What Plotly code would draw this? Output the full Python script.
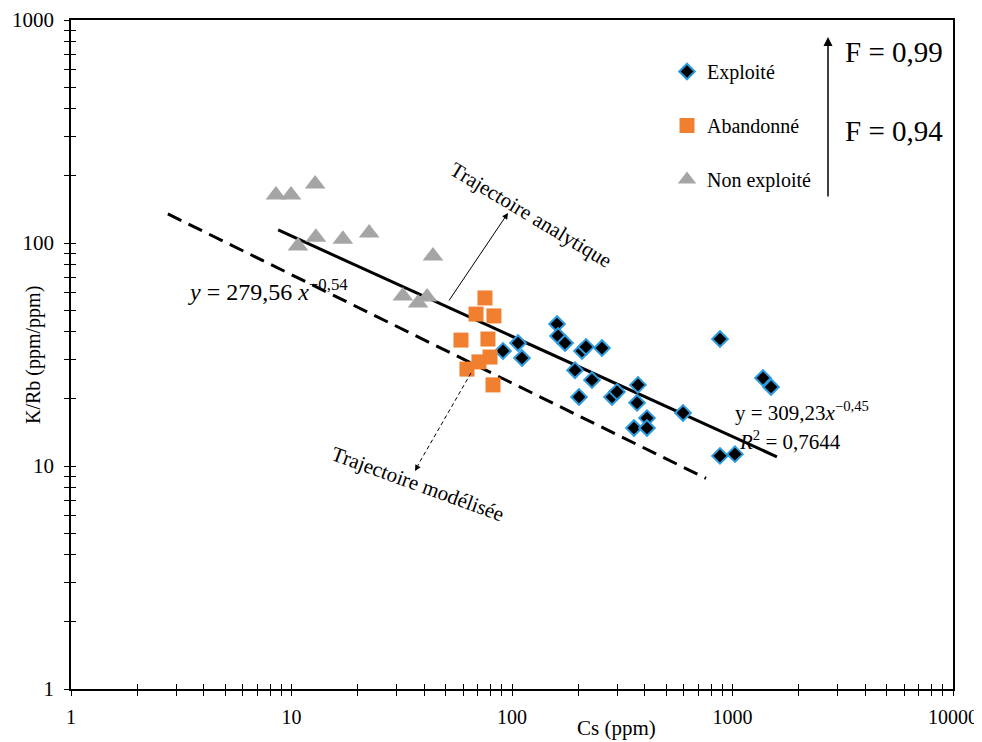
import plotly.graph_objects as go

# ---------------- data ----------------
exploite_cs = [91.0, 106.5, 111.0, 160.0, 161.7, 174.0, 207.6, 216.6, 255.9, 193.1,
               230.5, 201.3, 284.2, 299.4, 372.6, 369.0, 409.4, 357.4, 409.4, 596.6,
               877.6, 1375, 1496, 877.6, 1026]
exploite_krb = [32.8, 35.6, 30.5, 43.3, 38.3, 35.6, 32.8, 34.2, 33.8, 26.9,
                24.3, 20.4, 20.4, 21.5, 23.1, 19.2, 16.4, 14.8, 14.8, 17.3,
                37.1, 24.8, 22.6, 11.1, 11.3]

abandonne_cs = [75.4, 68.7, 82.8, 58.7, 77.8, 79.5, 70.8, 62.5, 82.0]
abandonne_krb = [56.7, 48.0, 47.1, 36.7, 37.1, 30.8, 29.3, 27.2, 23.1]

non_exploite_cs = [8.5, 9.95, 12.8, 10.7, 12.9, 17.1, 22.5, 43.8, 32.0, 37.5, 41.2]
non_exploite_krb = [164, 164, 184, 97, 106, 104, 111, 87.5, 57.9, 53.8, 57.3]

# trend lines (end points)
analytique_cs = [8.7, 1590]
analytique_krb = [114.4, 11.0]
modelisee_cs = [2.75, 758]
modelisee_krb = [135, 8.8]

x_decades = [1, 10, 100, 1000, 10000]
y_decades = [1, 10, 100, 1000]

# ---------------- layout geometry (page pixels) ----------------
W, H = 982, 742
SH = 8  # page body offset
L, R, T, B = 71, 953, 20, 689


def px(xp):
    return (xp - L) / (R - L)


def py(yp):
    return (B - yp) / (B - T)


def log_ticks(decades):
    vals, text = [], []
    for i, d in enumerate(decades):
        if i < len(decades) - 1:
            for m in range(1, 10):
                vals.append(d * m)
                text.append(str(d) if m == 1 else "")
        else:
            vals.append(d)
            text.append(str(d))
    return vals, text


xtv, xtt = log_ticks(x_decades)
ytv, ytt = log_ticks(y_decades)

SERIF = "Liberation Serif"

fig = go.Figure()

fig.add_trace(go.Scatter(
    x=analytique_cs, y=analytique_krb, mode="lines",
    line=dict(color="black", width=3), showlegend=False, hoverinfo="skip"))
fig.add_trace(go.Scatter(
    x=modelisee_cs, y=modelisee_krb, mode="lines",
    line=dict(color="black", width=3, dash="15px,8px"), showlegend=False, hoverinfo="skip"))

fig.add_trace(go.Scatter(
    x=exploite_cs, y=exploite_krb, mode="markers", name="Exploité", legendgroup="a",
    marker=dict(symbol="diamond", size=12, color="black",
                line=dict(color="#2a9be0", width=2))))
fig.add_trace(go.Scatter(
    x=abandonne_cs, y=abandonne_krb, mode="markers", name="Abandonné", legendgroup="b",
    marker=dict(symbol="square", size=15, color="#f07f30", line=dict(width=0))))
fig.add_trace(go.Scatter(
    x=non_exploite_cs, y=non_exploite_krb, mode="markers", name="Non exploité", legendgroup="c",
    marker=dict(symbol="triangle-up", size=18, color="#a5a5a5", line=dict(width=0))))

# dummy trace for the overlay axes (inside half of crossing ticks)
fig.add_trace(go.Scatter(x=[1], y=[1], xaxis="x2", yaxis="y2", mode="markers",
                         marker=dict(opacity=0), showlegend=False, hoverinfo="skip"))

axis_common = dict(showgrid=False, zeroline=False, tickcolor="black", tickwidth=1,
                   automargin=False)

fig.update_layout(
    width=W, height=H,
    margin=dict(l=L - SH, r=W - R + SH, t=T - SH, b=H - B + SH),
    paper_bgcolor="white", plot_bgcolor="white",
    font=dict(family=SERIF, color="black", size=20),
    xaxis=dict(type="log", range=[0, 4], tickvals=xtv, ticktext=xtt,
               ticks="outside", ticklen=5, showline=True, linecolor="black",
               linewidth=1.5, mirror=True, ticklabelstandoff=4,
               tickfont=dict(size=20, family=SERIF), **axis_common),
    yaxis=dict(type="log", range=[0, 3], tickvals=ytv, ticktext=ytt,
               ticks="outside", ticklen=5, showline=True, linecolor="black",
               linewidth=1.5, mirror=True, ticklabelstandoff=6,
               tickfont=dict(size=21, family=SERIF), **axis_common),
    xaxis2=dict(type="log", range=[0, 4], overlaying="x", anchor="y2", side="bottom",
                tickvals=xtv, ticks="inside", ticklen=5, showticklabels=False,
                showline=False, **axis_common),
    yaxis2=dict(type="log", range=[0, 3], overlaying="y", anchor="x2", side="left",
                tickvals=ytv, ticks="inside", ticklen=5, showticklabels=False,
                showline=False, **axis_common),
    legend=dict(x=px(667), y=py(52), xanchor="left", yanchor="top",
                bgcolor="rgba(0,0,0,0)", font=dict(size=20, family=SERIF),
                tracegroupgap=25, itemsizing="trace"),
    showlegend=True,
)


def note(x, y, text, size, angle=0, xanchor="center"):
    return dict(x=px(x), y=py(y), xref="paper", yref="paper", text=text,
                textangle=angle, showarrow=False, xanchor=xanchor, yanchor="middle",
                font=dict(size=size, family=SERIF, color="black"))


NB = "&nbsp;"
ann = [
    note(616, 728, "Cs (ppm)", 21),
    note(33, 355, "K/Rb (ppm/ppm)", 20, angle=-90),
    note(531, 215, "Trajectoire analytique", 21, angle=31),
    note(418, 484, "Trajectoire modélisée", 21, angle=20),
    note(268, 290, f"<i>y</i>{NB}={NB}279,56{NB}<i>x</i><sup>−0,54</sup>", 24),
    note(733, 411, f"y{NB}={NB}309,23<i>x</i><sup>−0,45</sup>", 21, xanchor="left"),
    note(737, 440, f"<i>R</i><sup>2</sup>{NB}={NB}0,7644", 21, xanchor="left"),
    note(843, 52, "F = 0,99", 29, xanchor="left"),
    note(843, 131, "F = 0,94", 29, xanchor="left"),
]
# arrows
ann.append(dict(x=px(508), y=py(213), xref="paper", yref="paper", ax=448 - 508,
                ay=302 - 213, axref="pixel", ayref="pixel", text="", showarrow=True,
                arrowhead=2, arrowsize=1.2, arrowwidth=1, arrowcolor="black"))
ann.append(dict(x=px(828), y=py(37), xref="paper", yref="paper", ax=0, ay=161,
                text="", showarrow=True, arrowhead=2, arrowsize=1.2, arrowwidth=1.5,
                arrowcolor="black"))
ann.append(dict(x=px(415), y=py(471), xref="paper", yref="paper", ax=4, ay=-7,
                text="", showarrow=True, arrowhead=2, arrowsize=1.2, arrowwidth=1,
                arrowcolor="black"))
fig.update_layout(annotations=ann)

fig.add_shape(type="line", xref="paper", yref="paper",
              x0=px(471), y0=py(373), x1=px(418), y1=py(465),
              line=dict(color="black", width=1, dash="4px,3px"))

fig.write_html("out.html")
